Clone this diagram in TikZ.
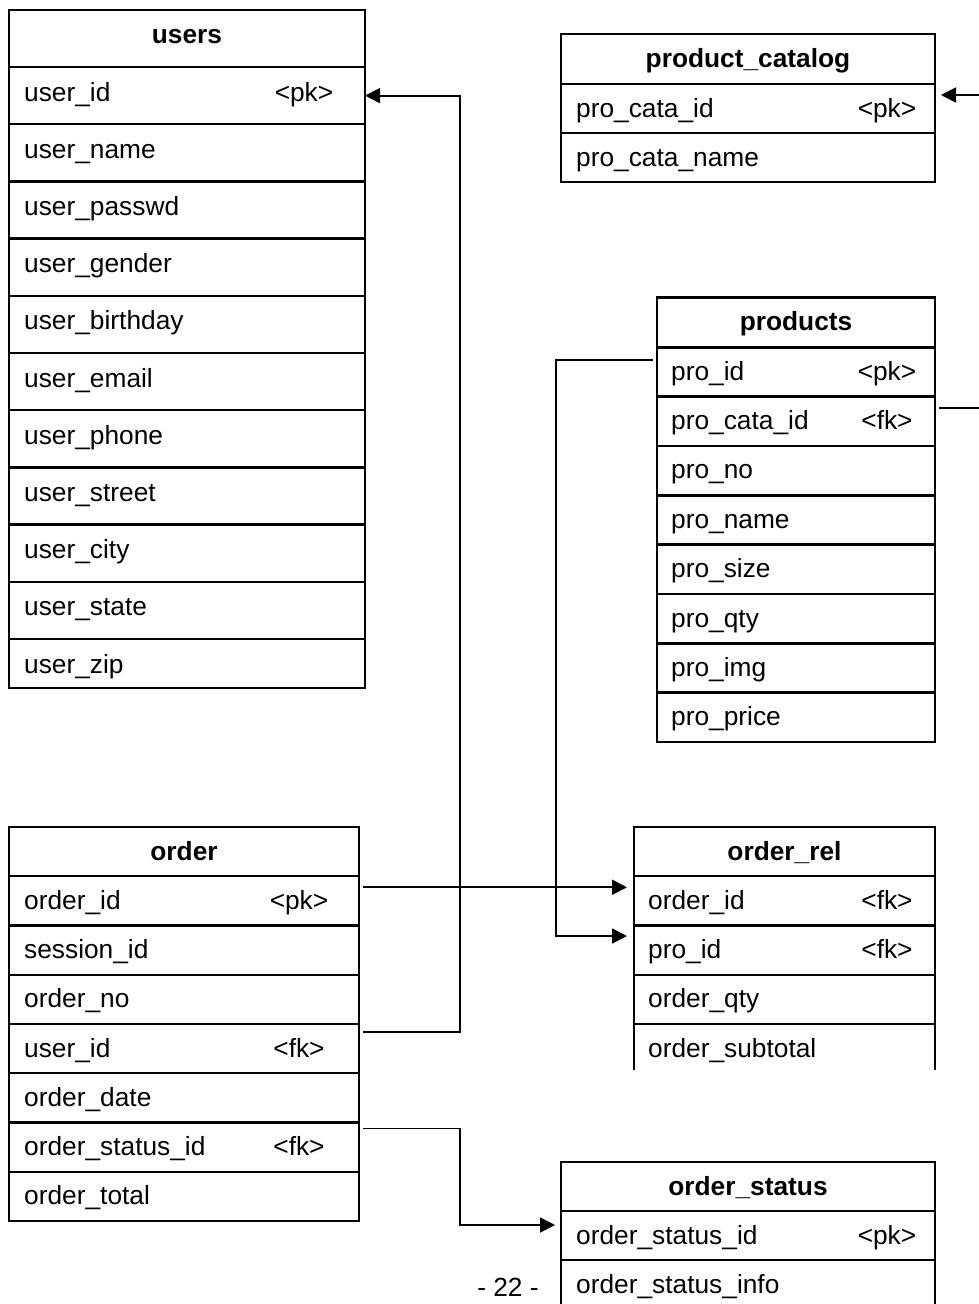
\documentclass[tikz,border=0pt]{standalone}
\usepackage{fontspec}
\setmainfont{Liberation Sans}
\usetikzlibrary{arrows.meta}

\begin{document}
\begin{tikzpicture}[x=1pt,y=-1pt,
    font=\fontsize{26.3}{30}\selectfont,
    box/.style={draw,line width=2.4pt,inner sep=0pt,outer sep=0pt,anchor=north west},
    ttl/.style={anchor=base,inner sep=0pt,font=\fontsize{26.3}{30}\selectfont\bfseries},
    fld/.style={anchor=base west,inner sep=0pt},
    tag/.style={anchor=base,inner sep=0pt},
    line/.style={line width=1.8pt},
    link/.style={line,-{Triangle[length=15pt,width=15pt]}}]
  \useasboundingbox (0,0) rectangle (979,1304) ;

  % users
  \node[box,minimum width=356pt,minimum height=57pt] (u0) at (9,10) {} ;
  \node[ttl] (u0-t) at ([yshift=-33.5pt]u0.north) {users} ;
  \foreach \f/\k [count=\i] in {user\_id/<pk>,user\_name/{},user\_passwd/{},%
      user\_gender/{},user\_birthday/{},user\_email/{},user\_phone/{},%
      user\_street/{},user\_city/{},user\_state/{},user\_zip/{}} {
    \node[box,minimum width=356pt,minimum height={(\i<11)?57.2:48.7}] (u\i) %
      at (9,{9.8+57.2*\i}) {} ;
    \node[fld] (u\i-f) at ([xshift=15pt,yshift=-34pt]u\i.north west) {\f} ;
    \node[tag] (u\i-k) at ([xshift=-61pt,yshift=-34pt]u\i.north east) {\k} ;
  }

  % product_catalog
  \node[box,minimum width=374pt,minimum height=50pt] (c0) at (561,34) {} ;
  \node[ttl] (c0-t) at ([yshift=-33pt]c0.north) {product\_catalog} ;
  \foreach \f/\k [count=\i] in {pro\_cata\_id/<pk>,pro\_cata\_name/{}} {
    \node[box,minimum width=374pt,minimum height=49pt] (c\i) at (561,{35+49*\i}) {} ;
    \node[fld] (c\i-f) at ([xshift=15pt,yshift=-33pt]c\i.north west) {\f} ;
    \node[tag] (c\i-k) at ([xshift=-48pt,yshift=-33pt]c\i.north east) {\k} ;
  }

  % products
  \node[box,minimum width=278pt,minimum height=50pt] (p0) at (657,297.3) {} ;
  \node[ttl] (p0-t) at ([yshift=-33pt]p0.north) {products} ;
  \foreach \f/\k [count=\i] in {pro\_id/<pk>,pro\_cata\_id/<fk>,pro\_no/{},%
      pro\_name/{},pro\_size/{},pro\_qty/{},pro\_img/{},pro\_price/{}} {
    \node[box,minimum width=278pt,minimum height=49.34pt] (p\i) at (657,{297.96+49.34*\i}) {} ;
    \node[fld] (p\i-f) at ([xshift=14pt,yshift=-33pt]p\i.north west) {\f} ;
    \node[tag] (p\i-k) at ([xshift=-48pt,yshift=-33pt]p\i.north east) {\k} ;
  }

  % order
  \node[box,minimum width=350pt,minimum height=49.25pt] (o0) at (9,827) {} ;
  \node[ttl] (o0-t) at ([yshift=-33pt]o0.north) {order} ;
  \foreach \f/\k [count=\i] in {order\_id/<pk>,session\_id/{},order\_no/{},%
      user\_id/<fk>,order\_date/{},order\_status\_id/<fk>,order\_total/{}} {
    \node[box,minimum width=350pt,minimum height=49.25pt] (o\i) at (9,{827+49.25*\i}) {} ;
    \node[fld] (o\i-f) at ([xshift=15pt,yshift=-33pt]o\i.north west) {\f} ;
    \node[tag] (o\i-k) at ([xshift=-60pt,yshift=-33pt]o\i.north east) {\k} ;
  }

  % order_rel
  \node[box,minimum width=301pt,minimum height=49.25pt] (r0) at (634,827) {} ;
  \node[ttl] (r0-t) at ([yshift=-33pt]r0.north) {order\_rel} ;
  \foreach \f/\k [count=\i] in {order\_id/<fk>,pro\_id/<fk>,order\_qty/{}} {
    \node[box,minimum width=301pt,minimum height=49.25pt] (r\i) at (634,{827+49.25*\i}) {} ;
    \node[fld] (r\i-f) at ([xshift=14pt,yshift=-33pt]r\i.north west) {\f} ;
    \node[tag] (r\i-k) at ([xshift=-48pt,yshift=-33pt]r\i.north east) {\k} ;
  }
  \node[box,draw=none,minimum width=301pt,minimum height=46pt] (r4) at (634,1024) {} ;
  \node[fld] (r4-f) at ([xshift=14pt,yshift=-33pt]r4.north west) {order\_subtotal} ;
  \draw[line width=2.4pt] (r4.north west) -- (r4.south west) %
    (r4.north east) -- (r4.south east) ;

  % order_status
  \node[box,minimum width=374pt,minimum height=49pt] (s0) at (561,1162) {} ;
  \node[ttl] (s0-t) at ([yshift=-33pt]s0.north) {order\_status} ;
  \foreach \f/\k [count=\i] in {order\_status\_id/<pk>,order\_status\_info/{}} {
    \node[box,minimum width=374pt,minimum height=49pt] (s\i) at (561,{1162+49*\i}) {} ;
    \node[fld] (s\i-f) at ([xshift=15pt,yshift=-33pt]s\i.north west) {\f} ;
    \node[tag] (s\i-k) at ([xshift=-48pt,yshift=-33pt]s\i.north east) {\k} ;
  }

  \node[anchor=base] (pg) at (508,1296) {- 22 -} ;

  % links
  \coordinate (catIn) at (979,95) ;
  \coordinate (catOut) at (979,408) ;
  \draw[link] ([xshift=4pt,yshift=-8pt]o4.north east) -- ++(97,0) |- (u1.east) ;
  \draw[link,shorten >=7pt] ([xshift=4pt,yshift=-11pt]o1.north east) %
    -- ([yshift=-11pt]r1.north west) ;
  \draw[link,shorten >=7pt] ([xshift=-4pt,yshift=-12.7pt]p1.north west) %
    -- ++(-97,0) |- ([yshift=-10.5pt]r2.north west) ;
  \draw[link,shorten >=6pt] ([xshift=4pt,yshift=-6pt]o6.north east) %
    -- ++(97,0) |- ([yshift=-14pt]s1.north west) ;
  \draw[line] ([xshift=4pt,yshift=-11.3pt]p2.north east) -- (catOut) ;
  \draw[link,shorten >=6pt] (catIn) -- ([yshift=-11pt]c1.north east) ;
\end{tikzpicture}
\end{document}
